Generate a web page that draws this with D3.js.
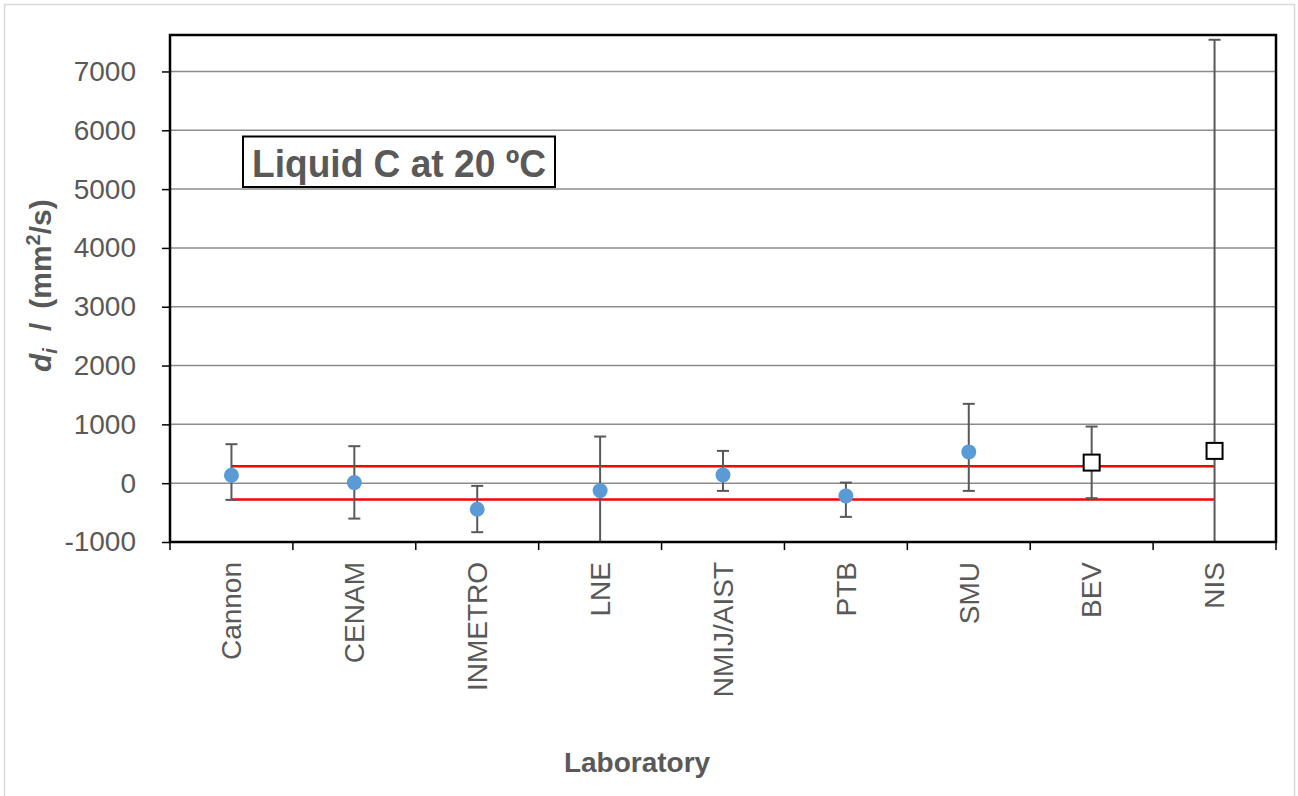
<!DOCTYPE html>
<html>
<head>
<meta charset="utf-8">
<script src="https://cdn.jsdelivr.net/npm/d3@7"></script>
<style>
  body { margin: 0; background: #fff; }
  svg text { font-family: Arial, "Liberation Sans", sans-serif; fill: #595959; }
</style>
</head>
<body>
<div id="chart"></div>
<script>
// laboratories along the x axis
const labs = ["Cannon", "CENAM", "INMETRO", "LNE", "NMIJ/AIST", "PTB", "SMU", "BEV", "NIS"];
// degree of equivalence d_i (mm²/s) and its expanded uncertainty limits
const di = [136, 10, -442, -126, 141, -216, 532, 350, 549];
const diUpper = [663, 629, -46, 793, 549, 10, 1349, 963, 7539];
const diLower = [-284, -602, -833, -1000, -131, -573, -131, -255, -1000];
// labs not in the reference value (drawn as open squares)
const excluded = ["BEV", "NIS"];
// reference band
const bandUpper = 289;
const bandLower = -279;
const yTicks = [-1000, 0, 1000, 2000, 3000, 4000, 5000, 6000, 7000];

const W = 1298, H = 796;
const margin = { top: 35, right: 22, bottom: 254, left: 170 };
const width = W - margin.left - margin.right;
const height = H - margin.top - margin.bottom;

const svg = d3.select("#chart").append("svg")
    .attr("width", W)
    .attr("height", H);

// chart area border
svg.append("rect")
    .attr("x", 4.5).attr("y", 4.5)
    .attr("width", 1290).attr("height", 800)
    .attr("fill", "#fff")
    .attr("stroke", "#d9d9d9")
    .attr("stroke-width", 1.5);

const chart = svg.append("g")
    .attr("transform", `translate(${margin.left}, ${margin.top})`);

const x = d3.scaleBand().domain(labs).range([0, width]);
const y = d3.scaleLinear().domain([-1000, 7620]).range([height, 0]);
const cx = d => x(d) + x.bandwidth() / 2;

// gridlines
chart.append("g")
    .selectAll("line")
    .data(yTicks.filter(t => t > -1000))
    .enter().append("line")
    .attr("x1", 0).attr("x2", width)
    .attr("y1", d => y(d)).attr("y2", d => y(d))
    .attr("stroke", "#8c8c8c")
    .attr("stroke-width", 1.5);

// y axis
const yAxis = chart.append("g")
    .call(d3.axisLeft(y).tickValues(yTicks).tickSize(8).tickPadding(26).tickFormat(d => String(d)));
yAxis.select(".domain").remove();
yAxis.selectAll("line").attr("stroke", "#000").attr("stroke-width", 1.5);
yAxis.selectAll("text").style("font-size", "28px").attr("fill", "#595959");

// x axis
const xAxis = chart.append("g")
    .attr("transform", `translate(0, ${height})`)
    .call(d3.axisBottom(x).tickSize(0).tickPadding(0));
xAxis.select(".domain").remove();
xAxis.selectAll("text")
    .style("font-size", "28px")
    .attr("fill", "#595959")
    .attr("text-anchor", "end")
    .attr("dy", "0.35em")
    .attr("transform", "translate(0, 20) rotate(-90)");

// category boundary ticks
chart.append("g")
    .selectAll("line")
    .data(d3.range(labs.length + 1))
    .enter().append("line")
    .attr("x1", i => i * x.step()).attr("x2", i => i * x.step())
    .attr("y1", height).attr("y2", height + 8)
    .attr("stroke", "#000")
    .attr("stroke-width", 1.5);

// clip to plot area
chart.append("clipPath").attr("id", "plotclip")
    .append("rect").attr("width", width).attr("height", height);

const plot = chart.append("g").attr("clip-path", "url(#plotclip)");

// reference band lines
const line = d3.line().x(d => cx(d[0])).y(d => y(d[1]));
[bandUpper, bandLower].forEach(v => {
    plot.append("path")
        .datum(labs.map(l => [l, v]))
        .attr("d", line)
        .attr("fill", "none")
        .attr("stroke", "#ff0000")
        .attr("stroke-width", 2.5);
});

// error bars
const data = labs.map((l, i) => ({ lab: l, v: di[i], hi: diUpper[i], lo: diLower[i] }));
const eb = plot.append("g").attr("stroke", "#595959").attr("stroke-width", 2);
eb.selectAll(".stem").data(data).enter().append("line")
    .attr("x1", d => cx(d.lab)).attr("x2", d => cx(d.lab))
    .attr("y1", d => y(d.hi)).attr("y2", d => y(d.lo));
eb.selectAll(".capHi").data(data).enter().append("line")
    .attr("x1", d => cx(d.lab) - 6).attr("x2", d => cx(d.lab) + 6)
    .attr("y1", d => y(d.hi)).attr("y2", d => y(d.hi));
eb.selectAll(".capLo").data(data.filter(d => d.lo > -1000)).enter().append("line")
    .attr("x1", d => cx(d.lab) - 6).attr("x2", d => cx(d.lab) + 6)
    .attr("y1", d => y(d.lo)).attr("y2", d => y(d.lo));

// points
plot.selectAll(".pt").data(data.filter(d => !excluded.includes(d.lab))).enter().append("circle")
    .attr("cx", d => cx(d.lab))
    .attr("cy", d => y(d.v))
    .attr("r", 7.5)
    .attr("fill", "#5b9bd5");

plot.selectAll(".sq").data(data.filter(d => excluded.includes(d.lab))).enter().append("rect")
    .attr("x", d => cx(d.lab) - 8)
    .attr("y", d => y(d.v) - 8)
    .attr("width", 16).attr("height", 16)
    .attr("fill", "#fff")
    .attr("stroke", "#000")
    .attr("stroke-width", 2);

// plot box
chart.append("rect")
    .attr("width", width).attr("height", height)
    .attr("fill", "none")
    .attr("stroke", "#000")
    .attr("stroke-width", 2.5);

// title box
svg.append("rect")
    .attr("x", 243).attr("y", 136.5)
    .attr("width", 312).attr("height", 50.5)
    .attr("fill", "#fff")
    .attr("stroke", "#000")
    .attr("stroke-width", 2);
svg.append("text")
    .attr("x", 252).attr("y", 177)
    .attr("textLength", 294)
    .attr("lengthAdjust", "spacingAndGlyphs")
    .style("font-size", "38px")
    .style("font-weight", "bold")
    .text("Liquid C at 20 ºC");

// axis titles
const yl = svg.append("text")
    .attr("transform", "translate(51, 372) rotate(-90)")
    .style("font-size", "30px")
    .style("font-weight", "bold");
yl.append("tspan").style("font-style", "italic").text("d");
yl.append("tspan").style("font-style", "italic").style("font-size", "20px").attr("dy", 6).text("i");
yl.append("tspan").attr("dy", -6).attr("dx", 17).text("/");
yl.append("tspan").attr("dx", 14).text("(mm");
yl.append("tspan").style("font-size", "20px").attr("dy", -11).text("2");
yl.append("tspan").attr("dy", 11).text("/s)");

svg.append("text")
    .attr("x", 637).attr("y", 772)
    .attr("text-anchor", "middle")
    .style("font-size", "28px")
    .style("font-weight", "bold")
    .text("Laboratory");
</script>
</body>
</html>
